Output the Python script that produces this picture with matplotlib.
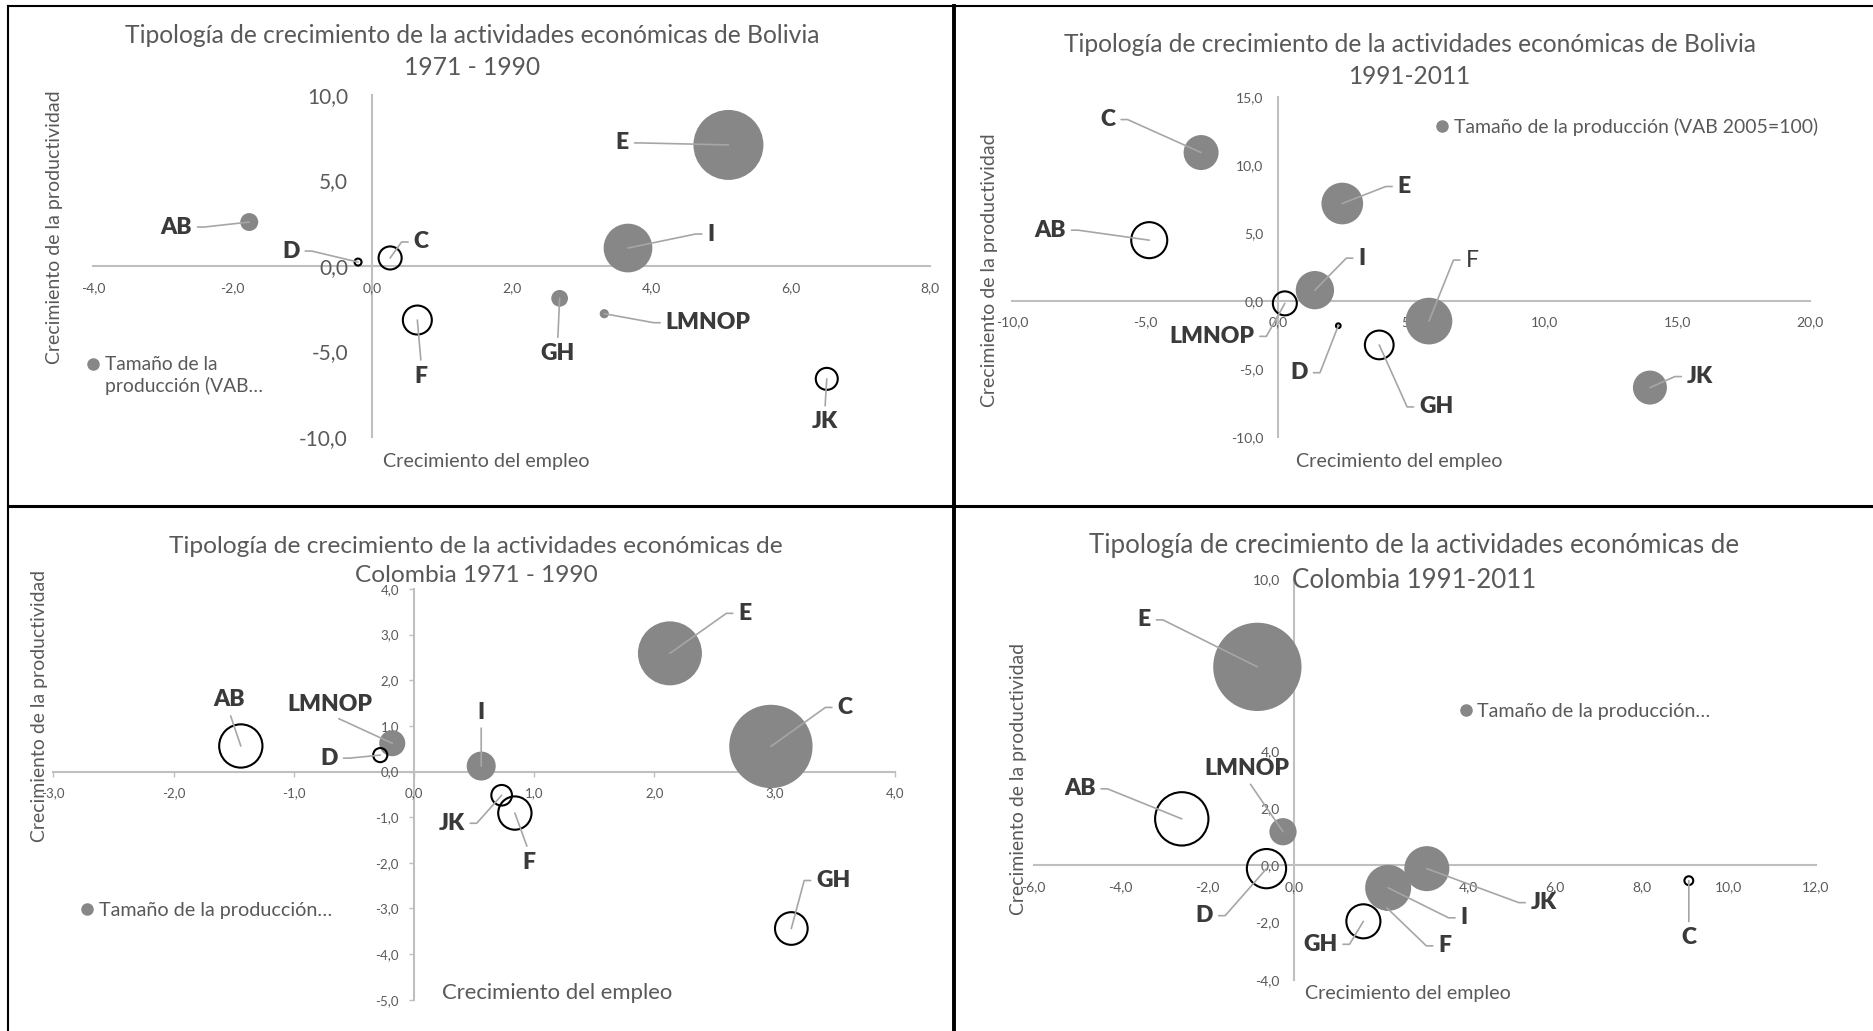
import numpy as np
import matplotlib
matplotlib.use('Agg')
import matplotlib.pyplot as plt
from matplotlib.lines import Line2D
from matplotlib import font_manager

plt.rcParams['font.family'] = ['Lato', 'DejaVu Sans']

W, H, DPI = 1874, 1031, 100

sectores = ['AB', 'C', 'D', 'E', 'F', 'GH', 'I', 'JK', 'LMNOP']

# Bolivia 1971 - 1990
bo1_empleo = [-1.76, 0.26, -0.20, 5.11, 0.65, 2.69, 3.67, 6.52, 3.33]
bo1_prod = [2.57, 0.47, 0.23, 7.08, -3.16, -1.89, 1.05, -6.60, -2.79]
bo1_tam = [0.46, -0.76, -0.07, 7.0, -1.20, 0.40, 3.39, -0.69, 0.12]

# Bolivia 1991-2011
bo2_empleo = [-4.85, -2.90, 2.26, 2.41, 5.67, 3.80, 1.38, 13.98, 0.25]
bo2_prod = [4.47, 10.90, -1.81, 7.16, -1.47, -3.22, 0.80, -6.35, -0.17]
bo2_tam = [-3.57, 3.37, -0.06, 4.78, 6.0, -2.27, 4.04, 3.18, -1.58]

# Colombia 1971 - 1990
co1_empleo = [-1.44, 2.97, -0.28, 2.13, 0.84, 3.14, 0.56, 0.73, -0.18]
co1_prod = [0.56, 0.55, 0.36, 2.59, -0.91, -3.44, 0.12, -0.52, 0.62]
co1_tam = [-2.16, 8.0, -0.23, 4.72, -1.28, -1.23, 0.97, -0.49, 0.78]

# Colombia 1991-2011
co2_empleo = [-2.59, 9.08, -0.64, -0.85, 2.13, 1.59, 2.16, 3.05, -0.26]
co2_prod = [1.62, -0.54, -0.12, 6.93, -1.49, -1.96, -0.79, -0.12, 1.17]
co2_tam = [-2.92, -0.08, -1.58, 8.0, 0.04, -1.19, 2.17, 2.08, 0.76]

GRAY = '#878787'
TXT = '#595959'
LAB = '#3a3a3a'
AXC = '#bfbfbf'
LEAD = '#a6a6a6'

# bold labels need a family that really has a heavy face installed
BOLD_FAMILY = 'DejaVu Sans'
for fam in ['Lato', 'Open Sans', 'Noto Sans', 'Roboto']:
    path = font_manager.findfont(font_manager.FontProperties(family=fam, weight='heavy'),
                                 fallback_to_default=False).lower()
    if fam.split()[0].lower() in path and any(w in path for w in ['bold', 'black', 'heavy']):
        BOLD_FAMILY = fam
        break


def fx(px):
    return px / W


def fy(py):
    return 1 - py / H


fig = plt.figure(figsize=(W / DPI, H / DPI), dpi=DPI)
renderer = fig.canvas.get_renderer()


def fit(t, target, vertical=False):
    bb = t.get_window_extent(renderer)
    size = bb.height if vertical else bb.width
    t.set_fontsize(t.get_fontsize() * target / size)


def fmt(v, pos):
    if abs(v) < 1e-9:
        v = 0.0
    return ('%.1f' % v).replace('.', ',')


def panel(p):
    x0, x1, ytop, ybot = p['box']
    ax = fig.add_axes([fx(x0), fy(ybot), (x1 - x0) / W, (ybot - ytop) / H])
    ax.set_xlim(p['xlim'])
    ax.set_ylim(p['ylim'])
    ax.set_xticks(np.round(np.arange(p['xlim'][0], p['xlim'][1] + 1e-6, p['xstep']), 6))
    ax.set_yticks(np.round(np.arange(p['ylim'][0], p['ylim'][1] + 1e-6, p['ystep']), 6))
    ax.xaxis.set_major_formatter(fmt)
    ax.yaxis.set_major_formatter(fmt)
    for s in ['top', 'right']:
        ax.spines[s].set_visible(False)
    for s in ['left', 'bottom']:
        ax.spines[s].set_position(('data', 0))
        ax.spines[s].set_color(AXC)
        ax.spines[s].set_linewidth(1.5)
        ax.spines[s].set_zorder(0.5)
    ax.tick_params(axis='x', length=p['ticklen'], width=1, color=AXC, labelcolor=TXT,
                   labelsize=p['tsize'][0], pad=p['pad'][0])
    ax.tick_params(axis='y', length=p['ticklen'], width=1, color=AXC, labelcolor=TXT,
                   labelsize=p['tsize'][1], pad=p['pad'][1])

    emp = np.array(p['emp'])
    prod = np.array(p['prod'])
    tam = np.array(p['tam'])
    d = p['dmax'] * np.sqrt(np.abs(tam) / np.abs(tam).max())
    s = (d * 72 / DPI) ** 2
    pos = tam > 0
    ax.scatter(emp[pos], prod[pos], s=s[pos], color=GRAY, edgecolors='none', zorder=2)
    ax.scatter(emp[~pos], prod[~pos], s=s[~pos], facecolors='none', edgecolors='black',
               linewidths=1.5, zorder=2.2)

    for name, x, y in zip(sectores, emp, prod):
        dx, dy, side = p['labels'][name]
        relpos = {'L': (1, 0.5), 'R': (0, 0.5), 'T': (0.5, 0), 'B': (0.5, 1)}[side]
        if side == 'L':
            conn = 'arc,angleA=0,armA=12,angleB=0,armB=0,rad=0'
        elif side == 'R':
            conn = 'arc,angleA=180,armA=12,angleB=0,armB=0,rad=0'
        else:
            conn = 'arc3,rad=0'
        if name in p.get('plain', []):
            style = dict(fontweight='normal')
        else:
            style = dict(fontweight='heavy', family=[BOLD_FAMILY, 'DejaVu Sans'])
        ax.annotate(name, (x, y), xytext=(dx * 0.72, -dy * 0.72), textcoords='offset points',
                    ha='center', va='center', fontsize=16.5, color=LAB, zorder=3,
                    arrowprops=dict(arrowstyle='-', color=LEAD, lw=1.2, relpos=relpos,
                                    connectionstyle=conn, shrinkB=0), **style)

    t = fig.text(fx(p['title_xy'][0]), fy(p['title_xy'][1]), p['title'], ha='center',
                 va='center', color=TXT, fontsize=16, linespacing=1.45)
    fit(t, p['title_w'])

    xl = ax.set_xlabel('Crecimiento del empleo', color=TXT, fontsize=14, va='center')
    ax.xaxis.set_label_coords(fx(p['xlab'][0]), fy(p['xlab'][1]), transform=fig.transFigure)
    fit(xl, p['xlab'][2])
    yl = ax.set_ylabel('Crecimiento de la productividad', color=TXT, fontsize=14,
                       va='center', ha='center')
    ax.yaxis.set_label_coords(fx(p['ylab'][0]), fy(p['ylab'][1]), transform=fig.transFigure)
    fit(yl, p['ylab'][2], vertical=True)

    h = Line2D([], [], marker='o', ls='none', color=GRAY, markersize=8)
    lx, ly, ltext, lw_, lift = p['legend']
    leg = ax.legend([h], [ltext], loc='center left',
                    bbox_to_anchor=(fx(lx - 6.3), fy(ly)), bbox_transform=fig.transFigure,
                    frameon=False, handlelength=0.7, handletextpad=0.3, borderpad=0,
                    borderaxespad=0, fontsize=13, labelcolor=TXT)
    fit(leg.get_texts()[0], lw_)
    if lift:
        # keep the legend dot level with the first line of a wrapped label
        hl = leg.legend_handles[0]
        hl.set_ydata(np.asarray(hl.get_ydata(), float) + lift * 0.72)
    return ax


panels = [
    dict(emp=bo1_empleo, prod=bo1_prod, tam=bo1_tam,
         title='Tipología de crecimiento de la actividades económicas de Bolivia\n1971 - 1990',
         box=(93, 930, 95, 437), xlim=(-4, 8), ylim=(-10, 10), xstep=2, ystep=5,
         tsize=(10, 15), pad=(11.3, 17.3), ticklen=0, dmax=70,
         title_xy=(472, 51.5), title_w=697,
         xlab=(486, 462, 207), ylab=(55, 227, 275),
         legend=(93, 375.5, 'Tamaño de la\nproducción (VAB…', 157, 12),
         labels={'AB': (-73, 5, 'L'), 'C': (31, -16, 'R'), 'D': (-67, -11, 'L'),
                 'E': (-106, -2, 'L'), 'F': (4, 56, 'B'), 'GH': (-2, 55, 'B'),
                 'I': (83, -14, 'R'), 'JK': (-2, 43, 'B'), 'LMNOP': (104, 9, 'R')}),
    dict(emp=bo2_empleo, prod=bo2_prod, tam=bo2_tam,
         title='Tipología de crecimiento de la actividades económicas de Bolivia\n1991-2011',
         box=(1012.3, 1810, 96.7, 437.3), xlim=(-10, 20), ylim=(-10, 15), xstep=5, ystep=5,
         tsize=(10, 10), pad=(11, 10.6), ticklen=0, dmax=46.7,
         title_xy=(1409.5, 60.3), title_w=695.6,
         xlab=(1399, 461.7, 206.6), ylab=(990, 270, 274),
         legend=(1442.3, 126.7, 'Tamaño de la producción (VAB 2005=100)', 362, 0),
         plain=['F'],
         labels={'AB': (-99, -10, 'L'), 'C': (-93, -33, 'L'), 'D': (-39, 47, 'L'),
                 'E': (62, -17, 'R'), 'F': (43, -61, 'R'), 'GH': (57, 62, 'R'),
                 'I': (47, -32, 'R'), 'JK': (50, -11, 'R'), 'LMNOP': (-73, 33, 'L')}),
    dict(emp=co1_empleo, prod=co1_prod, tam=co1_tam,
         title='Tipología de crecimiento de la actividades económicas de\nColombia 1971 - 1990',
         box=(53.3, 894.7, 589, 999.7), xlim=(-3, 4), ylim=(-5, 4), xstep=1, ystep=1,
         tsize=(9.5, 9.5), pad=(7.9, 7.2), ticklen=3.6, dmax=83.3,
         title_xy=(476, 560.8), title_w=616,
         xlab=(557.3, 993, 231), ylab=(40, 706.3, 273),
         legend=(87.3, 910.3, 'Tamaño de la producción…', 232, 0),
         labels={'AB': (-12, -46, 'T'), 'C': (74, -39, 'R'), 'D': (-51, 3, 'L'),
                 'E': (75, -40, 'R'), 'F': (14, 49, 'B'), 'GH': (42, -48, 'R'),
                 'I': (0, -54, 'T'), 'JK': (-50, 28, 'L'), 'LMNOP': (-62, -39, 'T')}),
    dict(emp=co2_empleo, prod=co2_prod, tam=co2_tam,
         title='Tipología de crecimiento de la actividades económicas de\nColombia 1991-2011',
         box=(1033.6, 1815.7, 579, 979.7), xlim=(-6, 12), ylim=(-4, 10), xstep=2, ystep=2,
         tsize=(10, 10), pad=(11.3, 10.3), ticklen=0, dmax=88.3,
         title_xy=(1414, 563), title_w=650.7,
         xlab=(1407.5, 993, 206), ylab=(1018.3, 778.8, 272),
         legend=(1465.7, 711.3, 'Tamaño de la producción…', 232, 0),
         labels={'AB': (-102, -30, 'L'), 'C': (0, 57, 'B'), 'D': (-62, 47, 'L'),
                 'E': (-113, -47, 'L'), 'F': (58, 38, 'R'), 'GH': (-43, 23, 'L'),
                 'I': (76, 30, 'R'), 'JK': (117, 34, 'R'), 'LMNOP': (-36, -63, 'T')}),
]

for p in panels:
    panel(p)

# frame lines between the four charts
for x0, y0, x1, y1, lw in [(8, 6, W, 6, 1.5), (8, 6, 8, H, 1.5),
                           (954, 6, 954, H, 2.8), (8, 505.5, W, 505.5, 2.2)]:
    fig.add_artist(Line2D([fx(x0), fx(x1)], [fy(y0), fy(y1)], transform=fig.transFigure,
                          color='black', lw=lw))

fig.savefig('out.png', dpi=DPI)
